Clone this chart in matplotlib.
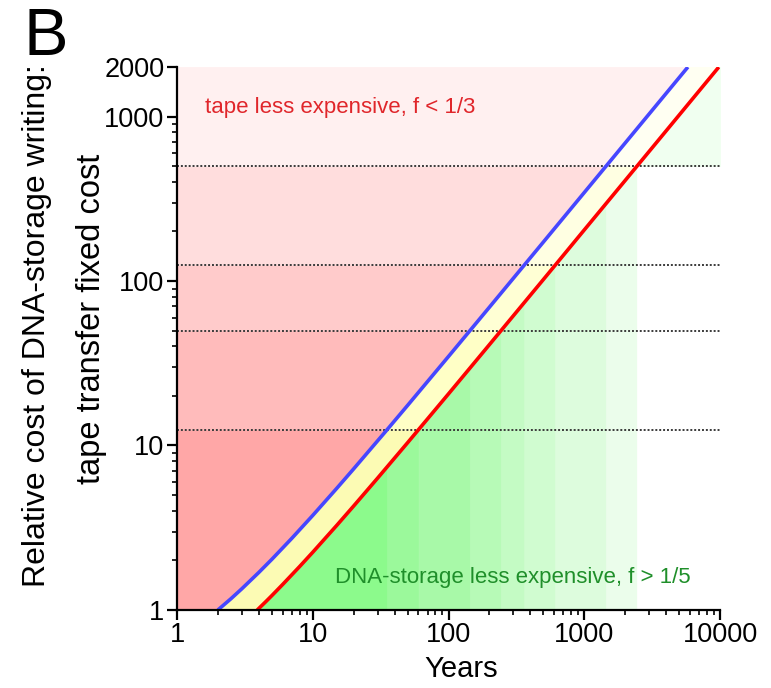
import numpy as np
import matplotlib
matplotlib.use("Agg")
import matplotlib.pyplot as plt
from matplotlib.ticker import LogLocator, NullFormatter, FixedLocator

plt.rcParams['font.family'] = ['Liberation Sans', 'DejaVu Sans']

# Break-even curves (years of storage vs. relative DNA writing cost)
years_blue = [2, 2.5, 3, 4, 5, 7, 10, 15, 20, 35, 50, 100, 200, 500,
              1000, 2000, 5799]
cost_blue = [1, 1.172, 1.345, 1.69, 2.034, 2.724, 3.759, 5.483, 7.207,
             12.38, 17.55, 34.79, 69.28, 172.7, 345.1, 690.0, 2000]   # f = 1/3
years_red = [3.9, 4.5, 5, 6, 8, 10, 15, 20, 30, 50, 100, 200, 500,
             1000, 2000, 5000, 9799]
cost_red = [1, 1.122, 1.224, 1.429, 1.837, 2.245, 3.265, 4.286, 6.327,
            10.41, 20.61, 41.02, 102.2, 204.5, 408.4, 1020.6, 2000]   # f = 1/5

# Horizontal reference costs (dotted)
ref_costs = [12.5, 50, 125, 500]

x_ticks = [1, 10, 100, 1000, 10000]
x_tick_labels = ['1', '10', '100', '1000', '10000']
y_ticks = [1, 10, 100, 1000, 2000]
y_tick_labels = ['1', '10', '100', '1000', '2000']

X_MIN, X_MAX = 1, 10000
Y_MIN, Y_MAX = 1, 2000

red_shades = ['#ffa7a7', '#ffbbbb', '#ffcbcb', '#ffdddd', '#fff0f0']
yellow_shades = ['#fcfbb4', '#ffffc6', '#ffffd4', '#ffffe2', '#fffff2']
green_shades = ['#8cfa8c', '#9bf99b', '#a8f9a8', '#b7fab7', '#c4fbc4',
                '#d0fcd0', '#ddfcdd', '#ebfdeb', '#ffffff']
green_top = '#f0fff0'


def x_on(lx, ly, y):
    return 10 ** np.interp(np.log10(y), np.log10(ly), np.log10(lx))


def y_on(lx, ly, x):
    return 10 ** np.interp(np.log10(x), np.log10(lx), np.log10(ly))


def knots(lo, hi, pts):
    inner = [p for p in pts if lo < p < hi]
    return np.array([lo] + inner + [hi], dtype=float)


fig = plt.figure(figsize=(7.71, 6.88), dpi=100)
ax = fig.add_axes([0.2296, 0.1134, 0.7043, 0.7892])
ax.set_xscale('log')
ax.set_yscale('log')
ax.set_xlim(X_MIN, X_MAX)
ax.set_ylim(Y_MIN, Y_MAX)

band_edges = [Y_MIN] + ref_costs + [Y_MAX]
all_costs = sorted(set(cost_blue + cost_red))

# Tape-cheaper region (left of blue) and the in-between zone, in horizontal bands
for i, (y0, y1) in enumerate(zip(band_edges[:-1], band_edges[1:])):
    ys = knots(y0, y1, all_costs)
    xb = x_on(years_blue, cost_blue, ys)
    xr = x_on(years_red, cost_red, ys)
    ax.fill_betweenx(ys, X_MIN, xb, color=red_shades[i], lw=0.6, zorder=1)
    ax.fill_betweenx(ys, xb, xr, color=yellow_shades[i], lw=0.6, zorder=1)

# DNA-cheaper region (below red) in vertical strips bounded by the crossings
crossings = []
for c in ref_costs:
    crossings.append(float(x_on(years_blue, cost_blue, c)))
    crossings.append(float(x_on(years_red, cost_red, c)))
strip_edges = [years_red[0]] + sorted(crossings) + [X_MAX]
all_years = sorted(set(years_blue + years_red))
for i, (x0, x1) in enumerate(zip(strip_edges[:-1], strip_edges[1:])):
    xs = knots(x0, x1, all_years)
    ys = y_on(years_red, cost_red, xs)
    ax.fill_between(xs, Y_MIN, ys, color=green_shades[i], lw=0.6, zorder=1)

ys = knots(ref_costs[-1], Y_MAX, cost_red)
ax.fill_betweenx(ys, x_on(years_red, cost_red, ys), X_MAX, color=green_top,
                 lw=0.6, zorder=1)

for c in ref_costs:
    ax.axhline(c, color='#3a3a3a', ls=(0, (1, 1)), lw=1.4, zorder=3)

ax.plot(years_blue, cost_blue, color='#4646ff', lw=2.6, zorder=4,
        solid_capstyle='butt')
ax.plot(years_red, cost_red, color='#ff0000', lw=2.6, zorder=4,
        solid_capstyle='butt')

ax.text(1.6, 1130, 'tape less expensive, f < 1/3', color='#e0262b',
        fontsize=16, ha='left', va='center', zorder=5)
ax.text(14.6, 1.57, 'DNA-storage less expensive, f > 1/5', color='#1f8f2a',
        fontsize=16, ha='left', va='center', zorder=5)

for side in ('top', 'right'):
    ax.spines[side].set_visible(False)
for side in ('left', 'bottom'):
    ax.spines[side].set_linewidth(1.6)
    ax.spines[side].set_zorder(6)

ax.xaxis.set_major_locator(FixedLocator(x_ticks))
ax.set_xticklabels(x_tick_labels)
ax.xaxis.set_minor_locator(LogLocator(base=10, subs=np.arange(2, 10)))
ax.xaxis.set_minor_formatter(NullFormatter())
ax.yaxis.set_major_locator(FixedLocator(y_ticks))
ax.set_yticklabels(y_tick_labels)
ax.yaxis.set_minor_locator(LogLocator(base=10, subs=np.arange(2, 10)))
ax.yaxis.set_minor_formatter(NullFormatter())
ax.tick_params(which='major', length=7, width=1.6, labelsize=19.5, pad=2)
ax.tick_params(which='minor', length=3.5, width=1.2)

ax.set_xlabel('Years', fontsize=21)
ax.xaxis.set_label_coords(0.523, -0.083)

fig.text(0.048, 0.527, 'Relative cost of DNA-storage writing:', rotation=90,
         ha='center', va='center', fontsize=23)
fig.text(0.119, 0.536, 'tape transfer fixed cost', rotation=90,
         ha='center', va='center', fontsize=23.5)
fig.text(0.03, 0.99, 'B', fontsize=48, ha='left', va='top')

fig.savefig('out.png', dpi=100)
